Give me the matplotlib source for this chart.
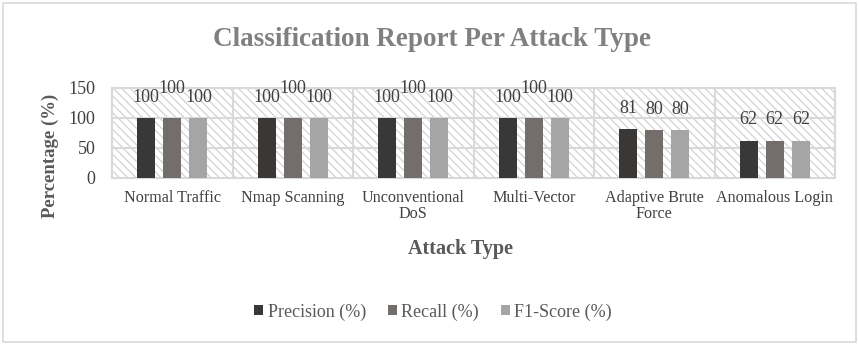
import matplotlib
matplotlib.use("Agg")
import matplotlib.pyplot as plt
from matplotlib.patches import Rectangle
import numpy as np

categories = ["Normal Traffic", "Nmap Scanning", "Unconventional\nDoS",
              "Multi-Vector", "Adaptive Brute\nForce", "Anomalous Login"]
series_names = ["Precision (%)", "Recall (%)", "F1-Score (%)"]
precision = [100, 100, 100, 100, 81, 62]
recall = [100, 100, 100, 100, 80, 62]
f1_score = [100, 100, 100, 100, 80, 62]
y_ticks = [0, 50, 100, 150]

series_values = [precision, recall, f1_score]
colors = ["#3a3836", "#736e6c", "#a5a5a5"]
text_gray = "#595959"
grid_gray = "#d9d9d9"

plt.rcParams["font.family"] = ["Liberation Serif", "DejaVu Serif"]
plt.rcParams["hatch.linewidth"] = 0.9
plt.rcParams["hatch.color"] = "#d3d3d3"

W, H = 859, 345
fig = plt.figure(figsize=(W / 100, H / 100), dpi=100)

# outer chart frame
fig.patches.append(Rectangle((3 / W, 3 / H), (W - 6) / W, (H - 6) / H,
                             transform=fig.transFigure, fill=False,
                             edgecolor=grid_gray, linewidth=1.2))

ax = fig.add_axes([112 / W, (H - 178) / H, 723 / W, 90 / H])
ax.set_facecolor("white")

# hatched plot-area background
ax.add_patch(Rectangle((0, 0), 1, 1, transform=ax.transAxes, facecolor="white",
                       hatch="\\\\\\\\", linewidth=0, zorder=0))

n = len(categories)
x = np.arange(n)
bar_w = 0.15
step = 0.217

ax.set_xlim(-0.5, n - 0.5)
ax.set_ylim(0, 150)

for yv in y_ticks[1:]:
    ax.axhline(yv, color=grid_gray, linewidth=1.5, zorder=1)
for xv in np.arange(0.5, n - 0.5, 1):
    ax.axvline(xv, color=grid_gray, linewidth=1.5, zorder=1)

for i, (vals, col, name) in enumerate(zip(series_values, colors, series_names)):
    pos = x + (i - 1) * step
    ax.bar(pos, vals, width=bar_w, color=col, label=name, zorder=3)

# value labels; the middle label is lifted where three-digit labels would collide
for j in range(n):
    for i, vals in enumerate(series_values):
        v = vals[j]
        lift = 0
        if i == 1 and max(s[j] for s in series_values) >= 100:
            lift = 6.5
        ax.annotate(f"{v}", (x[j] + (i - 1) * step, v), xytext=(0, 15 + lift),
                    textcoords="offset points", ha="center", va="center",
                    fontsize=13, color="#404040", zorder=4)

for sp in ax.spines.values():
    sp.set_color(grid_gray)
    sp.set_linewidth(1.5)

ax.set_xticks(x)
ax.set_xticklabels(categories, fontsize=11.6, color="#404040", linespacing=1.0)
ax.set_yticks(y_ticks)
ax.set_yticklabels([str(t) for t in y_ticks], fontsize=13, color="#404040")
ax.tick_params(axis="both", length=0)
ax.tick_params(axis="y", pad=12)
ax.tick_params(axis="x", pad=9)

fig.text(432 / W, 1 - 39 / H, "Classification Report Per Attack Type",
         ha="center", va="center", fontsize=19.5, fontweight="bold", color="#808080")
fig.text(50 / W, 1 - 156 / H, "Percentage (%)", rotation=90, ha="center",
         va="center", fontsize=13.5, fontweight="bold", color=text_gray)
fig.text(461 / W, 1 - 249 / H, "Attack Type", ha="center", va="center",
         fontsize=14.5, fontweight="bold", color=text_gray)

leg = fig.legend(loc="center", bbox_to_anchor=(433 / W, 1 - 312 / H), ncol=3,
                 frameon=False, fontsize=13, handlelength=0.5, handleheight=0.5,
                 handletextpad=0.25, columnspacing=1.2)
for t in leg.get_texts():
    t.set_color(text_gray)

fig.savefig("out.png", dpi=100)
